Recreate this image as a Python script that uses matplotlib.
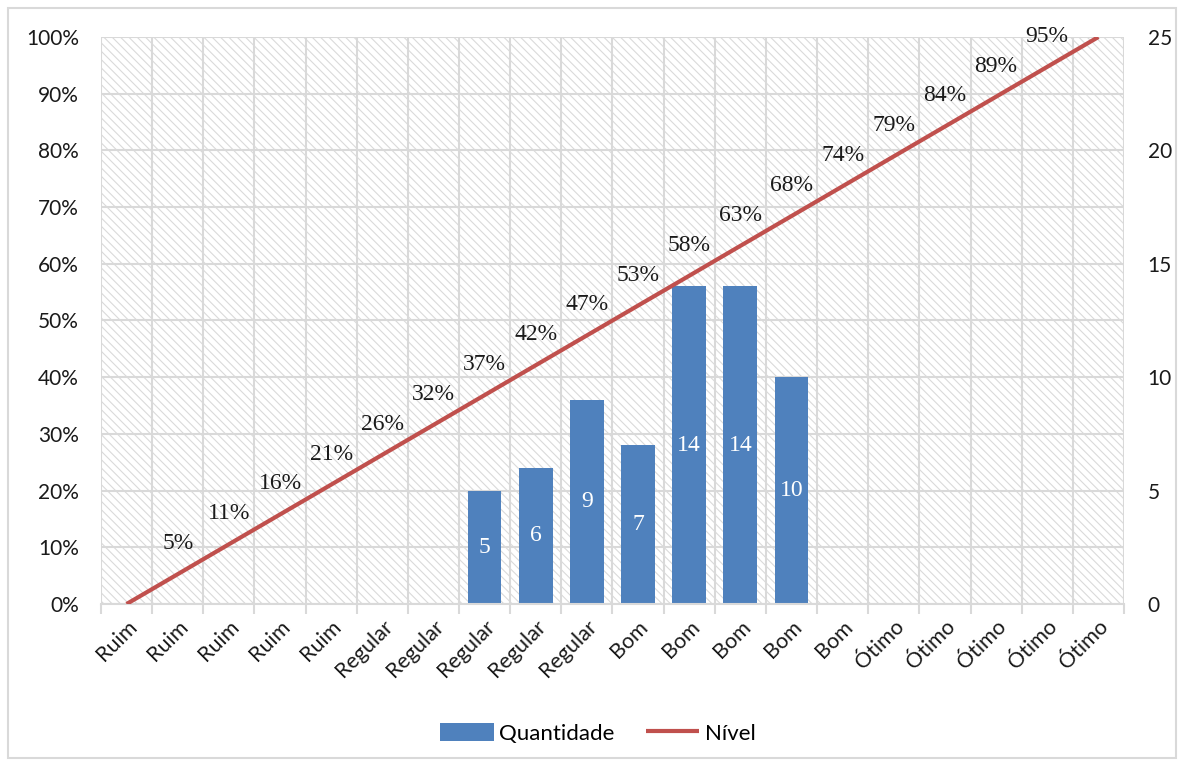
import matplotlib.pyplot as plt
from matplotlib.patches import Rectangle
from matplotlib.ticker import MultipleLocator, FuncFormatter

# dados do gráfico de Pareto
categorias = ["Ruim", "Ruim", "Ruim", "Ruim", "Ruim",
              "Regular", "Regular", "Regular", "Regular", "Regular",
              "Bom", "Bom", "Bom", "Bom", "Bom",
              "Ótimo", "Ótimo", "Ótimo", "Ótimo", "Ótimo"]
quantidade = [0, 0, 0, 0, 0, 0, 0, 5, 6, 9, 7, 14, 14, 10, 0, 0, 0, 0, 0, 0]
nivel = [0.0, 5.26, 10.53, 15.79, 21.05, 26.32, 31.58, 36.84, 42.11, 47.37,
         52.63, 57.89, 63.16, 68.42, 73.68, 78.95, 84.21, 89.47, 94.74, 100.0]

AZUL = "#4F81BD"
VERMELHO = "#C0504D"
GRADE = "#D9D9D9"
TEXTO = "#1A1A1A"

plt.rcParams["hatch.linewidth"] = 0.8
plt.rcParams["hatch.color"] = "#DADADA"

fig = plt.figure(figsize=(11.84, 7.66), dpi=100)
ax = fig.add_axes([0.0853, 0.2115, 0.8640, 0.7402])
ax2 = ax.twinx()

x = list(range(len(categorias)))
n = len(categorias)

# ax2 (quantidade) fica por baixo com fundo hachurado e grade; ax (nível) por cima
ax.set_zorder(2)
ax2.set_zorder(1)
ax.patch.set_visible(False)
ax2.patch.set_visible(False)

ax.set_xlim(-0.5, n - 0.5)
ax.set_ylim(0, 100)
ax2.set_ylim(0, 25)

ax2.add_patch(Rectangle((0, 0), 1, 1, transform=ax2.transAxes, facecolor="white",
                        hatch="\\\\\\\\", lw=0, zorder=0))
for v in range(0, 101, 10):
    ax2.axhline(v / 4, color=GRADE, lw=1.5, zorder=1)
for i in range(n + 1):
    ax2.axvline(i - 0.5, color=GRADE, lw=1.5, zorder=1)

# barras
barras = ax2.bar(x, quantidade, width=0.66, color=AZUL, zorder=2)
for xi, q in zip(x, quantidade):
    if q > 0:
        ax2.text(xi, q / 2, str(q), ha="center", va="center", color="white",
                 fontsize=17, family="Liberation Serif", zorder=3)

# linha de nível acumulado
linha, = ax.plot(x, nivel, color=VERMELHO, lw=3, solid_capstyle="butt", zorder=3)
for xi, v in zip(x, nivel):
    if 0 < v < 100:
        ax.annotate(f"{v:.0f}%", (xi, v), xytext=(0, 22), textcoords="offset points",
                    ha="center", va="center", fontsize=17, family="Liberation Serif",
                    color=TEXTO, annotation_clip=False, zorder=4)

# eixos
ax.yaxis.set_major_locator(MultipleLocator(10))
ax.yaxis.set_major_formatter(FuncFormatter(lambda v, p: f"{int(v)}%"))
ax2.yaxis.set_major_locator(MultipleLocator(5))
for a in (ax, ax2):
    for s in a.spines.values():
        s.set_visible(False)
ax.spines["bottom"].set_visible(True)
ax.spines["bottom"].set_color(GRADE)
ax.spines["bottom"].set_linewidth(1.5)

ax.tick_params(axis="y", length=0, pad=16, labelsize=15, labelcolor=TEXTO,
               left=False, labelleft=True, right=False, labelright=False)
ax2.yaxis.set_tick_params(length=0, pad=17, labelsize=15, labelcolor=TEXTO,
                          left=False, labelleft=False, right=False, labelright=True)
for lbl in ax.get_yticklabels() + ax2.get_yticklabels():
    lbl.set_family("Lato")

ax.set_xticks([i - 0.5 for i in range(n + 1)])
ax.set_xticklabels([])
ax.tick_params(axis="x", which="major", length=7, width=1.5, color=GRADE)
ax.set_xticks(x, minor=True)
ax.set_xticklabels(categorias, minor=True, rotation=45, ha="right",
                   rotation_mode="anchor", fontsize=15.5, family="Lato", color=TEXTO)
ax.tick_params(axis="x", which="minor", length=0, pad=9)

# legenda
fig.legend([barras, linha], ["Quantidade", "Nível"], loc="center",
           bbox_to_anchor=(0.505, 0.043), ncol=2, frameon=False,
           prop={"family": "Lato", "size": 16}, handlelength=2.4, handleheight=0.9,
           columnspacing=1.4, handletextpad=0.25)

# moldura externa
fig.add_artist(Rectangle((8 / 1184, 8 / 766), 1168 / 1184, 750 / 766,
                         transform=fig.transFigure, fill=False,
                         edgecolor=GRADE, lw=1.5))

fig.savefig("out.png", dpi=100)
